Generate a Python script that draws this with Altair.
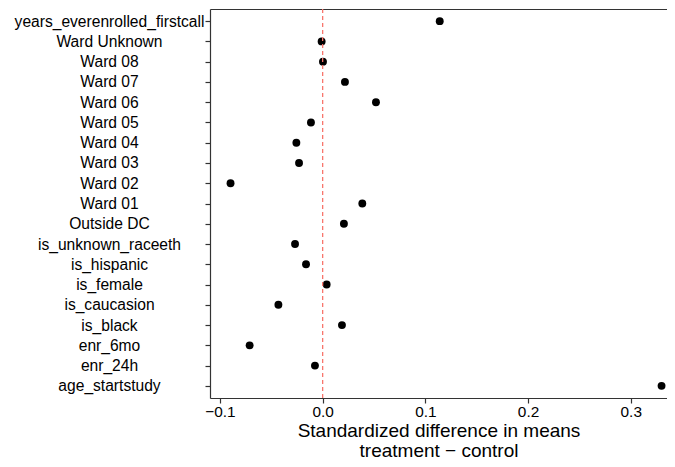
import altair as alt
import pandas as pd

variables = [
    "years_everenrolled_firstcall", "Ward Unknown", "Ward 08", "Ward 07",
    "Ward 06", "Ward 05", "Ward 04", "Ward 03", "Ward 02", "Ward 01",
    "Outside DC", "is_unknown_raceeth", "is_hispanic", "is_female",
    "is_caucasion", "is_black", "enr_6mo", "enr_24h", "age_startstudy",
]
std_diff = [
    0.114, -0.001, 0.0003, 0.0217,
    0.0519, -0.0114, -0.0256, -0.0230, -0.0897, 0.0386,
    0.0207, -0.0269, -0.0162, 0.0039,
    -0.0431, 0.0188, -0.0711, -0.0075, 0.330,
]
x_ticks = [-0.1, 0.0, 0.1, 0.2, 0.3]
reference_line = [0.0]
x_title = ["Standardized difference in means", "treatment \u2212 control"]

FONT = "Liberation Sans"

df = pd.DataFrame({"variable": variables, "diff": std_diff})
ref = pd.DataFrame({"zero": reference_line})

x_scale = alt.Scale(domain=[-0.1097, 0.3353], nice=False, zero=False)
y_scale = alt.Scale(type="point", padding=0.6)

points = alt.Chart(df).mark_circle(size=62, color="black", opacity=1).encode(
    x=alt.X(
        "diff:Q",
        scale=x_scale,
        axis=alt.Axis(
            values=x_ticks,
            format=".1f",
            title=x_title,
            orient="bottom",
            tickSize=5,
            labelPadding=1.5,
            titlePadding=2,
            labelFontSize=15.4,
        ),
    ),
    y=alt.Y(
        "variable:N",
        sort=variables,
        scale=y_scale,
        axis=alt.Axis(
            title=None,
            orient="left",
            labelAlign="center",
            labelPadding=96,
            labelLimit=400,
            tickSize=5,
            labelFontSize=15.6,
        ),
    ),
)

frame_top = alt.Chart(df).mark_point(opacity=0).encode(
    x=alt.X(
        "diff:Q",
        scale=x_scale,
        axis=alt.Axis(
            orient="top", labels=False, ticks=False, title=None,
            minExtent=0, maxExtent=0, offset=0,
        ),
    ),
)

zero_rule = alt.Chart(ref).mark_rule(
    color="#F8766D", strokeDash=[4, 3], strokeWidth=1.3
).encode(x=alt.X("zero:Q", scale=x_scale, axis=None))

chart = (
    alt.layer(points, frame_top, zero_rule)
    .resolve_axis(x="independent")
    .properties(
        width=457,
        height=389,
        padding={"left": 6, "top": 0, "right": 0, "bottom": 0},
    )
    .configure_view(stroke=None)
    .configure_axis(
        grid=False,
        domainColor="#333333",
        domainWidth=1.2,
        tickColor="#333333",
        tickWidth=1.2,
        labelColor="black",
        labelFont=FONT,
        titleFont=FONT,
        titleFontSize=19,
        titleFontWeight="normal",
        titleColor="black",
        titleLineHeight=20,
    )
)

chart.save("out.html", embed_options={"renderer": "svg", "actions": False})
